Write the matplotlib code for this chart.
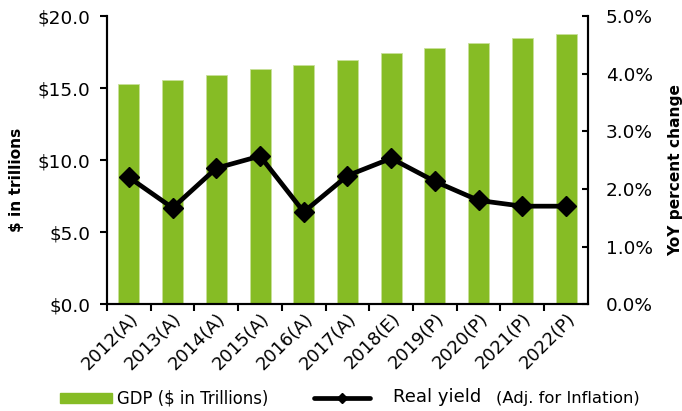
import numpy as np
import matplotlib
matplotlib.use("Agg")
import matplotlib.pyplot as plt
from matplotlib.lines import Line2D
from matplotlib.patches import Rectangle

# data
years = ['2012(A)', '2013(A)', '2014(A)', '2015(A)', '2016(A)', '2017(A)',
         '2018(E)', '2019(P)', '2020(P)', '2021(P)', '2022(P)']
gdp = [15.3, 15.55, 15.9, 16.3, 16.6, 16.95, 17.4, 17.8, 18.1, 18.45, 18.75]
real_yield = [2.2, 1.67, 2.36, 2.57, 1.6, 2.23, 2.53, 2.13, 1.8, 1.7, 1.7]

green = '#86BC25'
plt.rcParams['font.family'] = 'DejaVu Sans'

fig = plt.figure(figsize=(6.82, 4.11), dpi=100)
ax = fig.add_axes([0.157, 0.260, 0.705, 0.701])
x = np.arange(len(years))
ax.bar(x, gdp, width=0.48, color=green, edgecolor='#c8e09a', linewidth=0.6, zorder=1)
ax.set_ylim(0, 20)
ax.set_xlim(-0.5, len(years) - 0.5)
ax.set_yticks([0, 5, 10, 15, 20])
ax.set_yticklabels(['$%.1f' % v for v in [0, 5, 10, 15, 20]], fontsize=13.3)
ax.set_xticks(x - 0.5, minor=False)
ax.set_xticklabels([])
ax.set_xticks(x, minor=True)
ax.set_xticklabels(years, minor=True, rotation=45, ha='right', rotation_mode='anchor', fontsize=13)
ax.tick_params(axis='x', which='minor', length=0, pad=4)
ax.tick_params(axis='x', which='major', length=5, width=1.5)
ax.tick_params(axis='y', length=5, width=1.5, pad=7)
ax.set_ylabel('$ in trillions', fontsize=11.1, fontweight='bold')
ax.yaxis.set_label_coords(-0.1726, 0.43)
ax.spines['top'].set_visible(False)
for s in ['left', 'bottom', 'right']:
    ax.spines[s].set_linewidth(1.5)

ax2 = ax.twinx()
ax2.plot(x, real_yield, color='black', linewidth=3.4, marker='D', markersize=10, zorder=3)
ax2.set_ylim(0, 5)
ax2.set_yticks([0, 1, 2, 3, 4, 5])
ax2.set_yticklabels(['%.1f%%' % v for v in [0, 1, 2, 3, 4, 5]], fontsize=13.3)
ax2.tick_params(axis='y', length=4, width=1.5, direction='in', pad=13)
ax2.set_ylabel('YoY percent change', fontsize=11.1, fontweight='bold')
ax2.yaxis.set_label_coords(1.166, 0.465)
ax2.spines['top'].set_visible(False)
for s in ['left', 'bottom', 'right']:
    ax2.spines[s].set_linewidth(1.5)

# legend drawn by hand along the bottom
ly = 1 - 398 / 411
fig.patches.append(Rectangle((60 / 682, ly - 5 / 411), 52 / 682, 10 / 411,
                             transform=fig.transFigure, color=green))
fig.text(117 / 682, ly, 'GDP ($ in Trillions)', fontsize=11.9, va='center')
fig.lines.append(Line2D([314 / 682, 370 / 682], [ly, ly], transform=fig.transFigure,
                        color='black', linewidth=3.4, solid_capstyle='round'))
fig.lines.append(Line2D([342 / 682], [ly], transform=fig.transFigure,
                        color='black', marker='D', markersize=5))
fig.text(393 / 682, ly + 1 / 411, 'Real yield', fontsize=13, va='center')
fig.text(496 / 682, ly, '(Adj. for Inflation)', fontsize=11.8, va='center')

fig.savefig('out.png', dpi=100)
